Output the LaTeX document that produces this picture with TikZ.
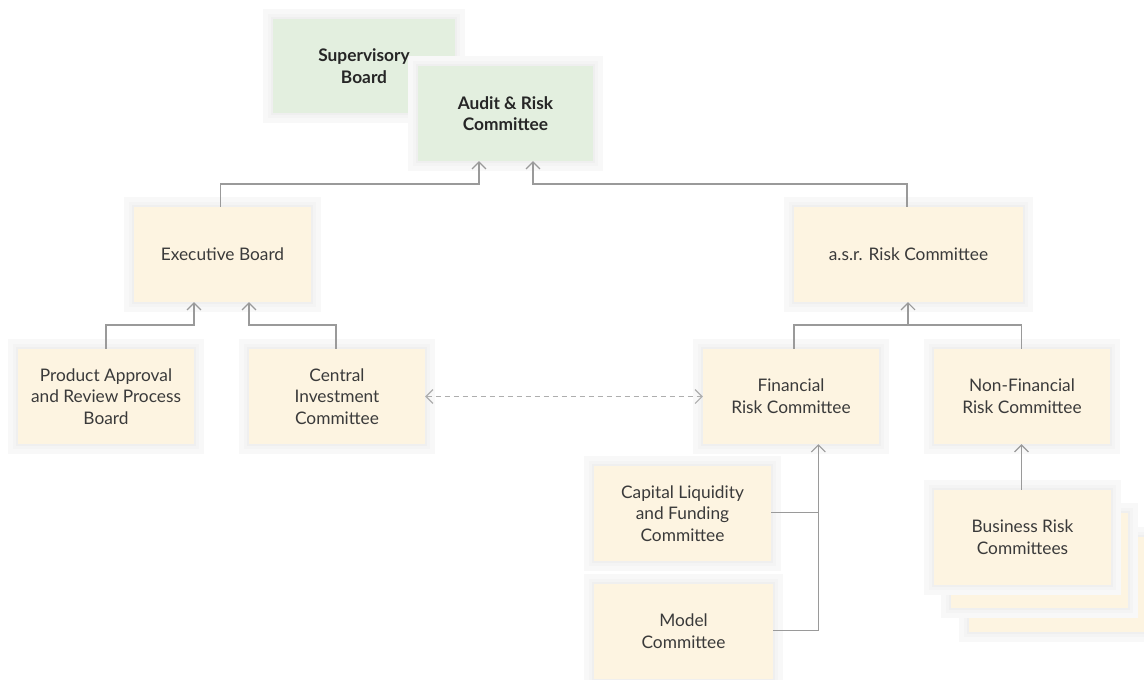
\documentclass[tikz,border=0pt]{standalone}
\usepackage{fontspec}
\setmainfont{Lato}
\usetikzlibrary{arrows.meta}
\definecolor{boxy}{HTML}{FDF4E1}
\definecolor{boxg}{HTML}{E3EFDF}
\definecolor{haloa}{HTML}{F8F8F8}
\definecolor{halob}{HTML}{F4F4F4}
\definecolor{haloc}{HTML}{EFEFEF}
\definecolor{linec}{HTML}{9A9A9A}
\definecolor{txt}{HTML}{3A3A3A}
\tikzset{
  halo/.style={fill=#1, draw=none, inner sep=0pt},
  ybox/.style={fill=boxy, draw=none, align=center, text=txt, inner sep=0pt,
    font=\fontsize{17.3}{21.7}\selectfont},
  gbox/.style={fill=boxg, draw=none, align=center, text=black!85, inner sep=0pt,
    font=\fontsize{17.3}{21.7}\selectfont\bfseries},
  conn/.style={draw=linec, line width=1.1pt, -{Straight Barb[length=7pt,width=14pt]}},
  dconn/.style={draw=linec!80, line width=1.1pt, dash pattern=on 5pt off 4pt,
    {Straight Barb[length=7pt,width=14pt]}-{Straight Barb[length=7pt,width=14pt]}},
  plain/.style={draw=linec, line width=1.1pt}
}
\newcommand\mybox[6]{%
  \node[halo=haloa, minimum width=#3pt+20pt, minimum height=#4pt+20pt] (#1h) at #2 {};
  \node[halo=halob, minimum width=#3pt+10pt, minimum height=#4pt+10pt] (#1hb) at #2 {};
  \node[halo=haloc, minimum width=#3pt+4pt, minimum height=#4pt+4pt] (#1hc) at #2 {};
  \node[#5, minimum width=#3pt, minimum height=#4pt] (#1) at #2 {#6};
}
\begin{document}
\begin{tikzpicture}[x=1pt,y=-1pt]
\useasboundingbox (0,0) rectangle (1144,680);
% top
\mybox{sup}{(364,66)}{182}{94}{gbox}{Supervisory\\Board}
\mybox{audit}{(505.5,113.5)}{175}{95}{gbox}{Audit \& Risk\\Committee}
% level 2
\mybox{exec}{(222.5,254.5)}{177}{95}{ybox}{Executive Board}
\mybox{asr}{(908.5,254.5)}{229}{95}{ybox}{a.s.r. Risk Committee}
% level 3
\mybox{prod}{(106,396.5)}{176}{95}{ybox}{Product Approval\\and Review Process\\Board}
\mybox{cent}{(337,396.5)}{176}{95}{ybox}{Central\\Investment\\Committee}
\mybox{fin}{(791,396.5)}{176}{95}{ybox}{Financial\\Risk Committee}
\mybox{nonfin}{(1022,396.5)}{176}{95}{ybox}{Non-Financial\\Risk Committee}
% level 4
\mybox{cap}{(682.5,513.5)}{177}{95}{ybox}{Capital Liquidity\\and Funding\\Committee}
\mybox{model}{(683.5,631.5)}{179}{95}{ybox}{Model\\Committee}
\mybox{busc}{(1057.5,584.5)}{177}{95}{ybox}{}
\mybox{busb}{(1039.5,560.5)}{177}{95}{ybox}{}
\mybox{bus}{(1022.5,537.5)}{177}{95}{ybox}{Business Risk\\Committees}
% connectors
\draw[conn] (exec.north -| 220.7,0) |- (479,184) -- (479,0 |- audit.south);
\draw[conn] (asr.north -| 907,0) |- (533,184) -- (533,0 |- audit.south);
\draw[conn] (prod.north -| 106,0) |- (194,325) -- (194,0 |- exec.south);
\draw[conn] (cent.north -| 336,0) |- (249,325) -- (249,0 |- exec.south);
\draw[plain] (fin.north -| 794,0) |- (908,325);
\draw[plain] (nonfin.north -| 1021.7,0) |- (908,325);
\draw[conn] (908,325) -- (908,0 |- asr.south);
\draw[plain] (cap.east |- 0,512.7) -- (818.3,512.7);
\draw[conn] (model.east |- 0,630.7) -| (818.3,0 |- fin.south);
\draw[conn] (bus.north -| 1021.5,0) -- (1021.5,0 |- nonfin.south);
\draw[dconn] (cent.east) -- (fin.west);
\end{tikzpicture}
\end{document}
